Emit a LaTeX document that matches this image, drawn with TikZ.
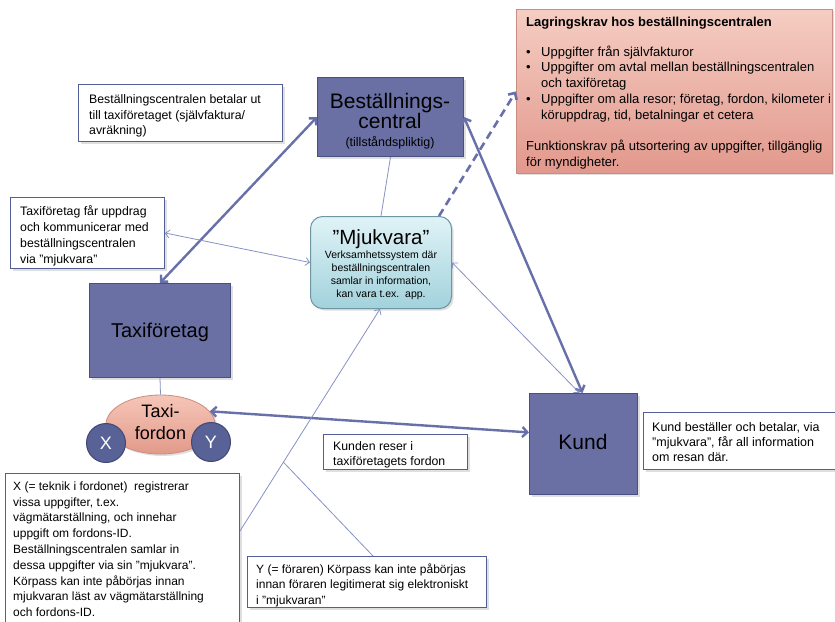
\documentclass[tikz,border=0pt]{standalone}
\usepackage{fontspec}
\setmainfont{Liberation Sans}
\usetikzlibrary{arrows.meta,shadows,calc,shapes.geometric}
\definecolor{boxfill}{RGB}{106,112,164}
\definecolor{boxdraw}{RGB}{72,80,128}
\definecolor{arrowc}{RGB}{104,112,170}
\definecolor{thinc}{RGB}{135,145,196}
\definecolor{tbdraw}{RGB}{84,94,150}
\definecolor{mjtop}{RGB}{224,243,247}
\definecolor{mjbot}{RGB}{162,210,220}
\definecolor{mjdraw}{RGB}{110,150,165}
\definecolor{redtop}{RGB}{245,205,195}
\definecolor{redbot}{RGB}{226,152,140}
\definecolor{reddraw}{RGB}{200,140,130}
\definecolor{elltop}{RGB}{245,198,184}
\definecolor{ellbot}{RGB}{226,154,138}
\definecolor{elldraw}{RGB}{205,140,125}
\definecolor{circfill}{RGB}{88,98,150}
\definecolor{circdraw}{RGB}{64,72,118}
\tikzset{
  shad/.style={drop shadow={opacity=0.25, shadow xshift=2pt, shadow yshift=-2pt}},
  darkbox/.style={draw=boxdraw, line width=1pt, fill=boxfill, anchor=north west, inner sep=0pt, shad},
  textbox/.style={draw=tbdraw, line width=1pt, fill=white, anchor=north west, inner sep=0pt, shad},
  txt/.style={anchor=north west, inner sep=0pt, align=left},
  ftA/.style={font=\fontsize{12.3}{15.5}\selectfont},
  ftE/.style={font=\fontsize{12}{15.8}\selectfont},
  big/.style={draw=arrowc, line width=2.4pt, arrows={Straight Barb[length=5pt,width=10pt]-Straight Barb[length=5pt,width=10pt]}},
  bigdash/.style={draw=arrowc, line width=2.6pt, dash pattern=on 8pt off 5pt, arrows={-Straight Barb[length=5pt,width=10pt]}},
  thinl/.style={draw=thinc, line width=0.8pt},
  thina/.style={draw=thinc, line width=0.8pt, arrows={Straight Barb[length=4pt,width=8pt]-Straight Barb[length=4pt,width=8pt]}},
  circ/.style={circle, draw=circdraw, line width=1pt, fill=circfill, minimum size=39pt, inner sep=0pt, text=white, font=\fontsize{18}{20}\selectfont}
}
\begin{document}
\begin{tikzpicture}[x=1pt,y=-1pt]
\fill[white] (0,0) rectangle (835,621);
\useasboundingbox (0,0) rectangle (835,621);

% red box
\node[draw=reddraw, line width=0.8pt, top color=redtop, bottom color=redbot, anchor=north west, inner sep=0pt, minimum width=316pt, minimum height=164pt, shad] (lag) at (516,9) {};
\node[txt, font=\fontsize{13}{15.7}\selectfont] (lagT) at (526,15) {\rule{0pt}{11pt}\textbf{Lagringskrav hos beställningscentralen}\\[14.3pt]
\makebox[15pt][l]{\textbullet}Uppgifter från självfakturor\\
\makebox[15pt][l]{\textbullet}Uppgifter om avtal mellan beställningscentralen\\
\hspace*{15pt}och taxiföretag\\
\makebox[15pt][l]{\textbullet}Uppgifter om alla resor; företag, fordon, kilometer i\\
\hspace*{15pt}köruppdrag, tid, betalningar et cetera\\[15.7pt]
Funktionskrav på utsortering av uppgifter, tillgänglig\\
för myndigheter.};

% Beställningscentral
\node[darkbox, minimum width=146pt, minimum height=79pt] (bc) at (317,77) {};
\node[inner sep=0pt, anchor=north, align=center, font=\fontsize{21}{20}\selectfont] (bcT) at (390,91.7) {\rule{0pt}{17pt}Beställnings-\\central};
\node[inner sep=0pt, anchor=base, font=\fontsize{12.5}{14}\selectfont] (bcS) at (390,146) {(tillståndspliktig)};

% Mjukvara
\node[draw=mjdraw, line width=1pt, top color=mjtop, bottom color=mjbot, rounded corners=12pt, anchor=north west, inner sep=0pt, minimum width=141pt, minimum height=92pt, shad] (mj) at (310,216) {};
\node[inner sep=0pt, anchor=base, font=\fontsize{20.5}{22}\selectfont] (mjT) at (381,244) {”Mjukvara”};
\node[inner sep=0pt, anchor=north, align=center, font=\fontsize{10.5}{13}\selectfont] (mjS) at (381,248.8) {\rule{0pt}{9pt}Verksamhetssystem där\\beställningscentralen\\samlar in information,\\kan vara t.ex.\ \ app.};

% Taxiforetag
\node[darkbox, minimum width=141pt, minimum height=94pt] (taxi) at (89,283) {};
\node[inner sep=0pt, anchor=base, font=\fontsize{20}{22}\selectfont] (taxiT) at (160,337) {Taxiföretag};

% Taxi-fordon
\node[ellipse, draw=elldraw, line width=0.8pt, top color=elltop, bottom color=ellbot, minimum width=109pt, minimum height=59pt, inner sep=0pt, shad] (fordon) at (160.5,424.5) {};
\node[inner sep=0pt, anchor=north, align=center, font=\fontsize{18}{21.3}\selectfont] (fordonT) at (160.5,402.7) {\rule{0pt}{15pt}Taxi-\\fordon};
\node[circ] (cx) at (106,443) {X};
\node[circ] (cy) at (211,442) {Y};

% Kund
\node[darkbox, minimum width=108pt, minimum height=101pt] (kund) at (529,393) {};
\node[inner sep=0pt, anchor=base, font=\fontsize{21}{22}\selectfont] (kundT) at (583,449) {Kund};

% text boxes
\node[textbox, minimum width=204pt, minimum height=57pt] (bA) at (78,84) {};
\node[txt, ftA] (tA) at (89,93) {\rule{0pt}{10.5pt}Beställningscentralen betalar ut\\till taxiföretaget (självfaktura/\\avräkning)};

\node[textbox, minimum width=154pt, minimum height=71pt] (bB) at (10,197) {};
\node[txt, font=\fontsize{12.3}{16}\selectfont] (tB) at (20,204.5) {\rule{0pt}{10.5pt}Taxiföretag får uppdrag\\och kommunicerar med\\beställningscentralen\\via "mjukvara"};

\node[textbox, minimum width=144pt, minimum height=35pt] (bC) at (323,434) {};
\node[txt, ftA] (tC) at (333,439.5) {\rule{0pt}{10.5pt}Kunden reser i\\taxiföretagets fordon};

\node[textbox, minimum width=197pt, minimum height=57pt] (bD) at (643,412) {};
\node[txt, font=\fontsize{12.5}{15.3}\selectfont] (tD) at (652,420) {\rule{0pt}{11pt}Kund beställer och betalar, via\\"mjukvara", får all information\\om resan där.};

\node[textbox, minimum width=234pt, minimum height=167pt] (bE) at (5,473) {};
\node[txt, ftE] (tE) at (13,479.5) {\rule{0pt}{10.5pt}X (= teknik i fordonet)\ \ registrerar\\vissa uppgifter, t.ex.\\vägmätarställning, och innehar\\uppgift om fordons-ID.\\Beställningscentralen samlar in\\dessa uppgifter via sin "mjukvara".\\Körpass kan inte påbörjas innan\\mjukvaran läst av vägmätarställning\\och fordons-ID.};

\node[textbox, minimum width=239pt, minimum height=51pt] (bF) at (247,556) {};
\node[txt, font=\fontsize{12}{15.5}\selectfont] (tF) at (256,562.5) {\rule{0pt}{10.5pt}Y (= föraren) Körpass kan inte påbörjas\\innan föraren legitimerat sig elektroniskt\\i "mjukvaran"};

% connectors
\draw[thinl] (taxi.south) -- (fordon.north);
\draw[thinl] (bc.south) -- (mj.north);
\draw[big] (taxi.north) -- (bc.west);
\draw[big] (bc.east) -- ($(kund.north)+(-1,0)$);
\draw[big] (fordon.15) -- (kund.168);
\draw[bigdash] ($(mj.north east)+(-13,0)$) -- (lag.west);
\draw[thina] (mj.west) -- (bB.east);
\draw[thina] (mj.east) -- ($(kund.north)+(-4,0)$);
\coordinate (xa) at ($(bE.north east)+(0,58)$);
\coordinate (mjb) at ($(mj.south)+(-1,0)$);
\draw[thinl, arrows={-Straight Barb[length=4pt,width=8pt]}] (xa) -- (mjb);
\coordinate (jn) at ($(xa)!0.31!(mjb)$);
\draw[thinl] ($(bF.north)+(6,0)$) -- (jn);
\end{tikzpicture}
\end{document}
